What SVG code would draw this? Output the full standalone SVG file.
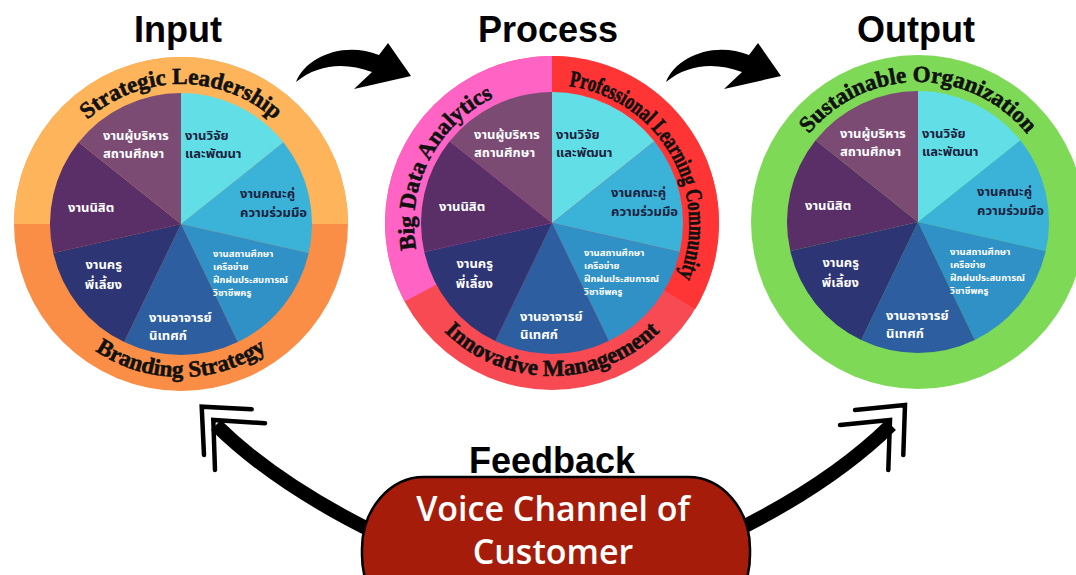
<svg xmlns="http://www.w3.org/2000/svg" xmlns:xlink="http://www.w3.org/1999/xlink" width="1076" height="575" viewBox="0 0 1076 575">
<style>
.title{font-family:"Liberation Sans",Arial,sans-serif;font-weight:700;font-size:36px;fill:#000;text-anchor:middle}
.arc{font-family:"Liberation Serif","DejaVu Serif",serif;font-weight:700;font-size:23px;fill:#111;stroke:#111;stroke-width:0.6}
.th{font-family:"Noto Sans Thai","Noto Sans","DejaVu Sans",sans-serif;font-weight:700;font-size:13px}
.sm{font-size:9.5px}
.dk{fill:#1d2140}
.wt{fill:#ffffff}
.w1{fill:#62dfe6}.w2{fill:#3bb3d8}.w3{fill:#2f91c6}.w4{fill:#2d5fa0}.w5{fill:#2e3574}.w6{fill:#5a2e66}.w7{fill:#7b4b74}
.shaft{fill:none;stroke:#000;stroke-width:14}
.chev{fill:none;stroke:#000;stroke-width:4.5;stroke-linecap:round;stroke-linejoin:miter}
.voice{font-family:"Open Sans","Liberation Sans",sans-serif;font-weight:600;font-size:34px;fill:#fff;text-anchor:middle}
</style>
<defs>
<path id="arcTop1" d="M41 224 A140 140 0 0 1 321 224"/>
<path id="arcBot1" d="M28 224 A153 153 0 0 0 334 224"/>
<path id="arcLeft2" d="M488.4 347.7 A140 140 0 0 1 615.6 98.3"/>
<path id="arcRight2" d="M482 101.8 A140 140 0 0 1 622 344.2"/>
<path id="arcBot2" d="M399 223 A153 153 0 0 0 705 223"/>
<path id="arcTop3" d="M778 222 A140 140 0 0 1 1058 222"/>
<path id="topArrow" d="M296 82 C306 56 345 41 379 55 L388 43 L411 76 L354 89 L372 72 C345 62 318 64 296 82 Z"/>
<g id="pie">
<path class="w1" d="M0 0 L0 -131 A131 131 0 0 1 102.4 -81.7 Z"/>
<path class="w2" d="M0 0 L102.4 -81.7 A131 131 0 0 1 127.7 29.1 Z"/>
<path class="w3" d="M0 0 L127.7 29.1 A131 131 0 0 1 56.8 118 Z"/>
<path class="w4" d="M0 0 L56.8 118 A131 131 0 0 1 -56.8 118 Z"/>
<path class="w5" d="M0 0 L-56.8 118 A131 131 0 0 1 -127.7 29.1 Z"/>
<path class="w6" d="M0 0 L-127.7 29.1 A131 131 0 0 1 -102.4 -81.7 Z"/>
<path class="w7" d="M0 0 L-102.4 -81.7 A131 131 0 0 1 0 -131 Z"/>
</g>
</defs>
<rect width="1076" height="575" fill="#fff"/>

<g id="title-input"><text class="title" x="178" y="42">Input</text></g>
<g id="title-process"><text class="title" x="548" y="42">Process</text></g>
<g id="title-output"><text class="title" x="916" y="42">Output</text></g>

<g id="input-circle">
<circle cx="181" cy="224" r="167" fill="#fb8e46"/>
<path d="M14 224 A167 167 0 0 1 348 224 Z" fill="#fdb45a"/>
<text class="arc"><textPath href="#arcTop1" startOffset="50%" text-anchor="middle">Strategic Leadership</textPath></text>
<text class="arc" font-size="23.5"><textPath href="#arcBot1" startOffset="50%" text-anchor="middle">Branding Strategy</textPath></text>
<g transform="translate(181 224)">
<use href="#pie"/>
<text class="th wt" x="-78" y="-84">งานผู้บริหาร</text>
<text class="th wt" x="-78" y="-66">สถานศึกษา</text>
<text class="th dk" x="4" y="-84">งานวิจัย</text>
<text class="th dk" x="4" y="-66">และพัฒนา</text>
<text class="th dk" x="59" y="-26">งานคณะคู่</text>
<text class="th dk" x="59" y="-7">ความร่วมมือ</text>
<text class="th wt sm" x="32" y="33">งานสถานศึกษา</text>
<text class="th wt sm" x="32" y="46">เครือข่าย</text>
<text class="th wt sm" x="32" y="59">ฝึกฝนประสบการณ์</text>
<text class="th wt sm" x="32" y="72">วิชาชีพครู</text>
<text class="th wt" x="-32" y="98">งานอาจารย์</text>
<text class="th wt" x="-32" y="116">นิเทศก์</text>
<text class="th wt" x="-59" y="45" text-anchor="end" font-size="15">งานครู</text>
<text class="th wt" x="-59" y="65" text-anchor="end" font-size="15">พี่เลี้ยง</text>
<text class="th wt" x="-113" y="-12" font-size="14">งานนิสิต</text>
</g>
</g>

<g id="process-circle">
<circle cx="552" cy="223" r="167" fill="#f84a52"/>
<path d="M552 223 L404.6 301.4 A167 167 0 0 1 552 56 Z" fill="#ff64c5"/>
<path d="M552 223 L552 56 A167 167 0 0 1 695.2 309 Z" fill="#ff3434"/>
<text class="arc" font-size="22"><textPath href="#arcLeft2" startOffset="50%" text-anchor="middle">Big Data Analytics</textPath></text>
<text class="arc" font-size="19"><textPath href="#arcRight2" startOffset="50%" text-anchor="middle" textLength="254" lengthAdjust="spacingAndGlyphs">Professional Learning Community</textPath></text>
<text class="arc" font-size="24"><textPath href="#arcBot2" startOffset="50%" text-anchor="middle">Innovative Management</textPath></text>
<g transform="translate(552 223)">
<use href="#pie"/>
<text class="th wt" x="-78" y="-84">งานผู้บริหาร</text>
<text class="th wt" x="-78" y="-66">สถานศึกษา</text>
<text class="th dk" x="4" y="-84">งานวิจัย</text>
<text class="th dk" x="4" y="-66">และพัฒนา</text>
<text class="th dk" x="59" y="-26">งานคณะคู่</text>
<text class="th dk" x="59" y="-7">ความร่วมมือ</text>
<text class="th wt sm" x="32" y="33">งานสถานศึกษา</text>
<text class="th wt sm" x="32" y="46">เครือข่าย</text>
<text class="th wt sm" x="32" y="59">ฝึกฝนประสบการณ์</text>
<text class="th wt sm" x="32" y="72">วิชาชีพครู</text>
<text class="th wt" x="-32" y="98">งานอาจารย์</text>
<text class="th wt" x="-32" y="116">นิเทศก์</text>
<text class="th wt" x="-59" y="45" text-anchor="end" font-size="15">งานครู</text>
<text class="th wt" x="-59" y="65" text-anchor="end" font-size="15">พี่เลี้ยง</text>
<text class="th wt" x="-113" y="-12" font-size="14">งานนิสิต</text>
</g>
</g>

<g id="output-circle">
<circle cx="918" cy="222" r="167" fill="#7ed957"/>
<text class="arc" font-size="22"><textPath href="#arcTop3" startOffset="50%" text-anchor="middle">Sustainable Organization</textPath></text>
<g transform="translate(918 222)">
<use href="#pie"/>
<text class="th wt" x="-78" y="-84">งานผู้บริหาร</text>
<text class="th wt" x="-78" y="-66">สถานศึกษา</text>
<text class="th dk" x="4" y="-84">งานวิจัย</text>
<text class="th dk" x="4" y="-66">และพัฒนา</text>
<text class="th dk" x="59" y="-26">งานคณะคู่</text>
<text class="th dk" x="59" y="-7">ความร่วมมือ</text>
<text class="th wt sm" x="32" y="33">งานสถานศึกษา</text>
<text class="th wt sm" x="32" y="46">เครือข่าย</text>
<text class="th wt sm" x="32" y="59">ฝึกฝนประสบการณ์</text>
<text class="th wt sm" x="32" y="72">วิชาชีพครู</text>
<text class="th wt" x="-32" y="98">งานอาจารย์</text>
<text class="th wt" x="-32" y="116">นิเทศก์</text>
<text class="th wt" x="-59" y="45" text-anchor="end" font-size="15">งานครู</text>
<text class="th wt" x="-59" y="65" text-anchor="end" font-size="15">พี่เลี้ยง</text>
<text class="th wt" x="-113" y="-12" font-size="14">งานนิสิต</text>
</g>
</g>

<g id="connectors">
<use id="arrow-input-process" href="#topArrow" fill="#000"/>
<use id="arrow-process-output" href="#topArrow" transform="translate(370 0)" fill="#000"/>
<g id="arrow-feedback-input">
<path class="shaft" d="M380 535 Q277 485 216 425"/>
<path class="chev" d="M251.7 409.3 L201.7 406.7 L204 455"/>
<path class="chev" d="M265 423.3 L213.3 420 L215 470"/>
</g>
<g id="arrow-feedback-output">
<path class="shaft" d="M727 535 Q830 485 891 425"/>
<path class="chev" d="M855 410 L905 405 L903.3 455"/>
<path class="chev" d="M840 425 L890 420 L888.3 470"/>
</g>
</g>

<g id="feedback-label"><text class="title" x="552" y="473" font-size="37">Feedback</text></g>
<g id="voice-channel">
<rect x="362" y="477" width="388" height="150" rx="62" ry="72" fill="#a51d0a" stroke="#000" stroke-width="2.5"/>
<text class="voice" x="553" y="521">Voice Channel of</text>
<text class="voice" x="553" y="564">Customer</text>
</g>
</svg>
